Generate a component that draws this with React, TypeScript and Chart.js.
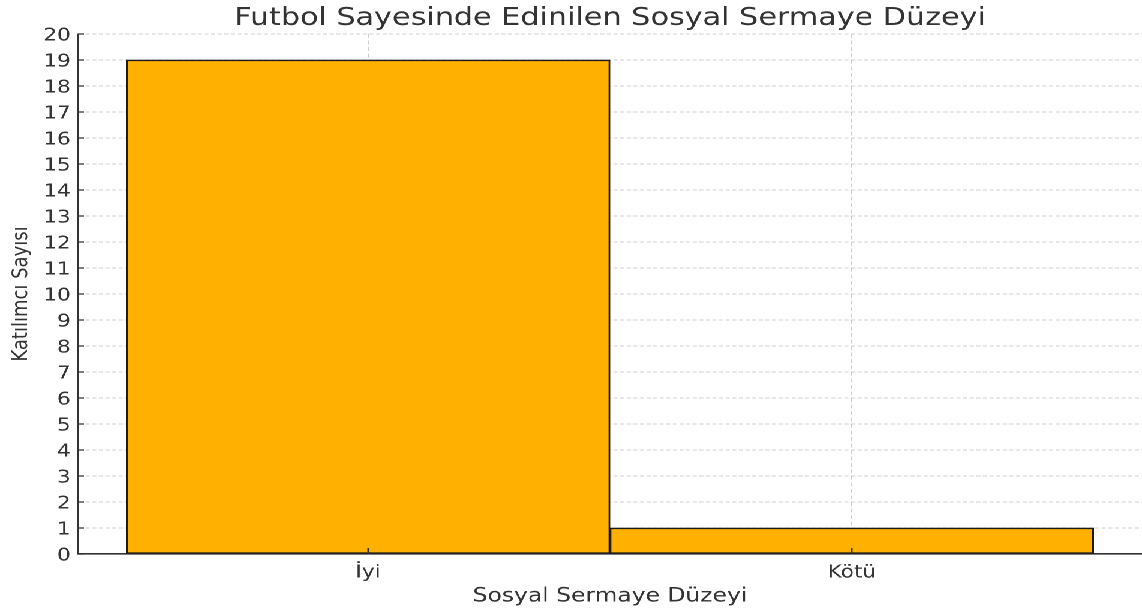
import { useEffect, useRef } from "react";
import { Chart, registerables } from "chart.js";

Chart.register(...registerables);

// ---- data ----
const TITLE = "Futbol Sayesinde Edinilen Sosyal Sermaye Düzeyi";
const X_TITLE = "Sosyal Sermaye Düzeyi";
const Y_TITLE = "Katılımcı Sayısı";
const categories = ["İyi", "Kötü"];
const counts = [19, 1];
const Y_MIN = 0;
const Y_MAX = 20;
const Y_STEP = 1;
const X_MIN = -0.6;
const X_MAX = 1.6;

// ---- layout / style ----
const W = 1142;
const H = 611;
const STRETCH = 1.2;
const CW = Math.round(W / STRETCH);
const FONT = '"DejaVu Sans", sans-serif';
const TEXT = "#333333";
const GRID = "rgba(128,128,128,0.38)";

const titlePlugin = {
  id: "mplTitle",
  afterDraw(chart: any) {
    const { ctx, chartArea } = chart;
    ctx.save();
    ctx.font = `25.2px ${FONT}`;
    ctx.fillStyle = TEXT;
    ctx.textAlign = "center";
    ctx.textBaseline = "alphabetic";
    ctx.fillText(TITLE, (chartArea.left + chartArea.right) / 2, 25);
    ctx.restore();
  },
};

const inwardTicksPlugin = {
  id: "inwardTicks",
  afterDraw(chart: any) {
    const { ctx, chartArea } = chart;
    const xs = chart.scales.x;
    const ys = chart.scales.y;
    ctx.save();
    ctx.strokeStyle = TEXT;
    ctx.lineWidth = 1.3;
    ctx.beginPath();
    ys.ticks.forEach((t: any) => {
      const y = ys.getPixelForValue(t.value);
      ctx.moveTo(chartArea.left, y);
      ctx.lineTo(chartArea.left + 5, y);
    });
    xs.ticks.forEach((t: any) => {
      const x = xs.getPixelForValue(t.value);
      ctx.moveTo(x, chartArea.bottom);
      ctx.lineTo(x, chartArea.bottom - 6);
    });
    ctx.stroke();
    ctx.restore();
  },
};

export default function App() {
  const ref = useRef<HTMLCanvasElement | null>(null);

  useEffect(() => {
    if (!ref.current) return;
    const chart = new Chart(ref.current, {
      type: "bar",
      data: {
        datasets: [
          {
            data: counts.map((v, i) => ({ x: i, y: v })),
            backgroundColor: "#FFB000",
            borderColor: "#1a1a1a",
            borderWidth: 1.5,
            borderSkipped: false,
            barPercentage: 1,
            categoryPercentage: 1,
          },
        ],
      },
      options: {
        animation: false,
        responsive: false,
        devicePixelRatio: 2,
        layout: { padding: { top: 34, left: 0, right: 0, bottom: 0 } },
        plugins: {
          legend: { display: false },
          tooltip: { enabled: false },
          title: { display: false },
        },
        scales: {
          x: {
            type: "linear",
            min: X_MIN,
            max: X_MAX,
            offset: false,
            z: 1,
            afterBuildTicks: (scale: any) => {
              scale.ticks = categories.map((_, i) => ({ value: i }));
            },
            afterFit: (scale: any) => {
              scale.height = 57;
            },
            ticks: {
              callback: (v: any) => categories[v] ?? "",
              font: { family: FONT, size: 18 },
              color: TEXT,
              padding: 8,
              maxRotation: 0,
              autoSkip: false,
            },
            grid: { offset: false, color: GRID, lineWidth: 1, drawTicks: false, tickLength: 0 },
            border: { display: true, color: TEXT, width: 1.6, dash: [4, 2.5] },
            title: {
              display: true,
              text: X_TITLE,
              font: { family: FONT, size: 19.5 },
              color: TEXT,
              padding: { top: 0, bottom: 3 },
            },
          },
          y: {
            min: Y_MIN,
            max: Y_MAX,
            z: 1,
            afterFit: (scale: any) => {
              scale.width = 65;
            },
            ticks: {
              stepSize: Y_STEP,
              autoSkip: false,
              maxTicksLimit: 50,
              font: { family: FONT, size: 18 },
              color: TEXT,
              padding: 6,
              labelOffset: 2,
            },
            grid: { color: GRID, lineWidth: 1, drawTicks: false, tickLength: 0 },
            border: { display: true, color: TEXT, width: 1.4, dash: [3.4, 2.1] },
            title: {
              display: true,
              text: Y_TITLE,
              font: { family: FONT, size: 18 },
              color: TEXT,
              padding: { top: 7, bottom: 0 },
            },
          },
        },
      } as any,
      plugins: [titlePlugin, inwardTicksPlugin],
    });
    return () => chart.destroy();
  }, []);

  return (
    <div
      style={{
        position: "absolute",
        left: 0,
        top: 0,
        width: CW,
        height: H,
        transform: `scaleX(${W / CW})`,
        transformOrigin: "0 0",
        background: "#ffffff",
      }}
    >
      <canvas ref={ref} width={CW} height={H} />
    </div>
  );
}
